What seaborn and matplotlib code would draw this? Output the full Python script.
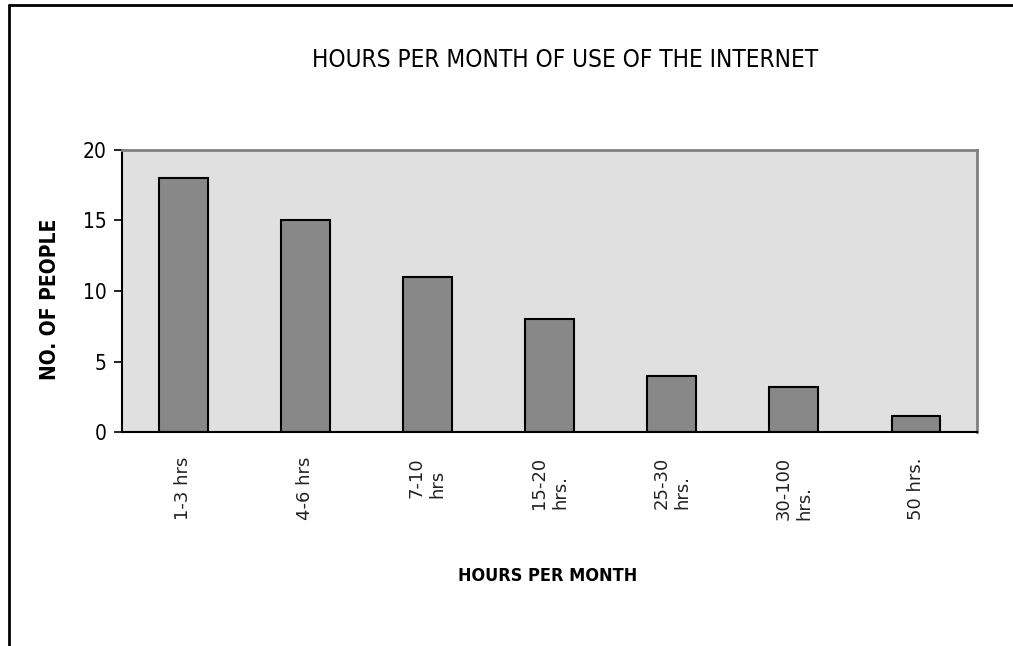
import numpy as np
import pandas as pd
import matplotlib
matplotlib.use("Agg")
import matplotlib.pyplot as plt
from matplotlib.lines import Line2D
import seaborn as sns

categories = ['1-3 hrs', '4-6 hrs', '7-10\nhrs', '15-20\nhrs.', '25-30\nhrs.', '30-100\nhrs.', '50 hrs.']
people = [18, 15, 11, 8, 4, 3.2, 1.1]
y_ticks = [0, 5, 10, 15, 20]

sns.set_style('white')
plt.rcParams['font.family'] = ['DejaVu Sans']
plt.rcParams['text.color'] = 'black'
plt.rcParams['axes.labelcolor'] = 'black'
plt.rcParams['xtick.color'] = 'black'
plt.rcParams['ytick.color'] = 'black'

df = pd.DataFrame({'hours': categories, 'people': people})

fig = plt.figure(figsize=(10.13, 6.46), dpi=100)
ax = fig.add_axes([122 / 1013, 1 - 432 / 646, 855 / 1013, 282 / 646])
ax.set_facecolor('#e0e0e0')

sns.barplot(data=df, x='hours', y='people', color='#888888', saturation=1,
            edgecolor='black', linewidth=1.5, width=0.4, ax=ax)

ax.set_xlim(-0.5, len(categories) - 0.5)
ax.set_ylim(0, 20)
ax.set_yticks(y_ticks)
ax.set_yticklabels([str(t) for t in y_ticks], fontsize=15, stretch='condensed')
ax.set_xticks(range(len(categories)))
ax.set_xticklabels(categories, rotation=90, fontsize=13, va='top', ha='center',
                   multialignment='left', color='#222222')
ax.set_xticks(np.arange(-0.5, len(categories)), minor=True)
ax.tick_params(axis='x', which='major', length=0, pad=18)
ax.tick_params(axis='x', which='minor', length=6, width=1.2, direction='out')
ax.tick_params(axis='y', length=6, width=1.2, direction='out', left=True, pad=5)

for side in ['top', 'right']:
    ax.spines[side].set_color('#808080')
    ax.spines[side].set_linewidth(2)
for side in ['left', 'bottom']:
    ax.spines[side].set_color('black')
    ax.spines[side].set_linewidth(1.5)

ax.set_xlabel('HOURS PER MONTH', fontsize=13, fontweight='bold', stretch='condensed')
ax.xaxis.set_label_coords(0.498, -0.48)
ax.set_ylabel('NO. OF PEOPLE', fontsize=15, fontweight='bold', stretch='condensed')
ax.yaxis.set_label_coords(-0.0725, 0.47)
fig.text(565 / 1013, 1 - 60 / 646, 'HOURS PER MONTH OF USE OF THE INTERNET', fontsize=17.5,
         stretch='condensed', ha='center', va='center')

# border of the chart frame (top and left edges only visible)
fig.add_artist(Line2D([9 / 1013, 1], [1 - 5 / 646, 1 - 5 / 646], transform=fig.transFigure,
                      color='black', linewidth=2))
fig.add_artist(Line2D([9 / 1013, 9 / 1013], [0, 1 - 5 / 646], transform=fig.transFigure,
                      color='black', linewidth=2))

fig.savefig('out.png', dpi=100, facecolor='white')
